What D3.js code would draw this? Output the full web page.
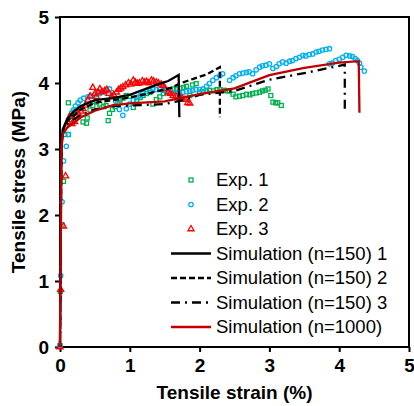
<!DOCTYPE html>
<html>
<head>
<meta charset="utf-8">
<script src="https://cdn.jsdelivr.net/npm/d3@7"></script>
<style>
  body { margin: 0; background: #fff; }
  svg { display: block; font-family: "Liberation Sans", Arial, sans-serif; }
</style>
</head>
<body>
<div id="chart"></div>
<script>
// Tensile stress-strain: experiments (markers) and simulations (lines)

const xTicks = [0, 1, 2, 3, 4, 5];
const yTicks = [0, 1, 2, 3, 4, 5];

// [strain %, stress MPa]
const exp1 = [[0,0.02],[0.005,0.84],[0.03,1.85],[0.05,2.51],[0.07,3.22],[0.12,3.22],[0.12,3.7],[0.15,3.5],
  [0.17,3.54],[0.2,3.56],[0.24,3.59],[0.28,3.62],[0.33,3.41],[0.38,3.39],[0.39,3.47],[0.43,3.59],[0.47,3.66],
  [0.52,3.71],[0.57,3.68],[0.62,3.64],[0.66,3.66],[0.69,3.43],[0.71,3.54],[0.75,3.6],[0.79,3.64],[0.83,3.7],
  [0.86,3.74],[0.9,3.77],[0.95,3.81],[1.0,3.8],[1.05,3.63],[1.1,3.74],[1.15,3.78],[1.19,3.81],[1.24,3.84],
  [1.29,3.86],[1.33,3.68],[1.38,3.75],[1.43,3.79],[1.48,3.84],[1.52,3.88],[1.58,3.9],[1.63,3.91],[1.67,3.91],
  [1.72,3.92],[1.77,3.93],[1.81,3.95],[1.86,3.81],[1.9,3.97],[1.95,3.99],[2.0,3.86],[2.05,3.87],[2.1,3.88],
  [2.14,3.89],[2.2,3.88],[2.25,3.9],[2.29,3.9],[2.35,3.89],[2.4,3.88],[2.43,3.88],[2.48,3.83],[2.52,3.79],
  [2.57,3.8],[2.62,3.81],[2.67,3.83],[2.72,3.82],[2.76,3.84],[2.81,3.85],[2.86,3.86],[2.9,3.88],[2.94,3.89],
  [2.98,3.91],[3.02,3.81],[3.05,3.71],[3.09,3.7],[3.12,3.7],[3.17,3.66]];

const exp2 = [[0,0.02],[0.01,1.08],[0.03,2.2],[0.05,2.82],[0.09,3.04],[0.12,3.22],[0.15,3.45],[0.19,3.59],
  [0.22,3.65],[0.26,3.7],[0.29,3.74],[0.34,3.77],[0.4,3.79],[0.45,3.8],[0.5,3.82],[0.57,3.84],[0.62,3.86],
  [0.67,3.89],[0.71,3.91],[0.75,3.85],[0.8,3.72],[0.85,3.6],[0.9,3.51],[0.95,3.61],[1.0,3.68],[1.05,3.74],
  [1.1,3.78],[1.15,3.81],[1.19,3.84],[1.24,3.87],[1.29,3.89],[1.33,3.91],[1.38,3.9],[1.43,3.9],[1.48,3.89],
  [1.52,3.88],[1.57,3.86],[1.62,3.84],[1.67,3.85],[1.71,3.86],[1.76,3.86],[1.81,3.87],[1.86,3.88],[1.9,3.89],
  [1.95,3.9],[2.0,3.9],[2.05,3.91],[2.1,3.95],[2.14,3.99],[2.19,4.04],[2.24,4.08],[2.29,4.11],[2.33,4.14],
  [2.43,4.04],[2.48,4.08],[2.52,4.11],[2.57,4.14],[2.62,4.15],[2.67,4.16],[2.71,4.17],[2.76,4.14],[2.81,4.2],
  [2.86,4.24],[2.9,4.26],[2.95,4.27],[3.0,4.29],[3.05,4.22],[3.1,4.25],[3.14,4.29],[3.19,4.32],[3.24,4.3],
  [3.29,4.33],[3.33,4.34],[3.38,4.37],[3.43,4.39],[3.48,4.42],[3.52,4.41],[3.57,4.43],[3.62,4.44],[3.67,4.47],
  [3.71,4.48],[3.76,4.5],[3.81,4.51],[3.86,4.52],[3.86,4.29],[3.9,4.3],[3.95,4.34],[4.0,4.36],[4.05,4.39],
  [4.1,4.42],[4.15,4.41],[4.19,4.4],[4.23,4.37],[4.26,4.34],[4.29,4.3],[4.31,4.24],[4.36,4.18]];

const exp3 = [[0,0],[0.01,0.87],[0.05,1.83],[0.08,2.59],[0.12,3.39],[0.14,3.49],[0.17,3.38],[0.21,3.41],
  [0.24,3.5],[0.26,3.54],[0.3,3.57],[0.33,3.61],[0.36,3.66],[0.4,3.74],[0.43,3.8],[0.47,3.93],[0.5,3.84],
  [0.52,3.79],[0.55,3.86],[0.57,3.91],[0.6,3.87],[0.64,3.88],[0.67,3.9],[0.7,3.84],[0.74,3.79],[0.77,3.82],
  [0.81,3.86],[0.84,3.9],[0.87,3.92],[0.9,3.94],[0.94,3.97],[0.98,4.0],[1.01,3.98],[1.05,4.04],[1.08,4.01],
  [1.11,3.99],[1.14,4.0],[1.18,4.03],[1.21,4.01],[1.24,4.02],[1.27,4.0],[1.31,4.04],[1.34,4.03],[1.38,4.01],
  [1.41,4.0],[1.45,3.98],[1.48,3.96],[1.51,3.91],[1.55,3.86],[1.58,3.84],[1.62,3.81],[1.66,3.8],[1.71,3.79],
  [1.75,3.77],[1.79,3.75],[1.83,3.7],[1.86,3.69]];

const sim150a = [[0,0],[0.01,2.0],[0.02,3.0],[0.04,3.3],[0.1,3.45],[0.2,3.57],[0.3,3.65],[0.5,3.74],
  [0.75,3.77],[1.0,3.82],[1.2,3.9],[1.4,3.98],[1.55,4.03],[1.7,4.12],[1.71,3.48]];
const sim150b = [[0,0],[0.02,3.0],[0.04,3.28],[0.1,3.42],[0.3,3.6],[0.5,3.7],[0.75,3.74],[1.0,3.78],
  [1.3,3.85],[1.6,3.93],[1.71,3.99],[1.9,4.06],[2.1,4.13],[2.29,4.24],[2.29,3.48]];
const sim150c = [[0,0],[0.02,3.0],[0.04,3.25],[0.1,3.38],[0.3,3.52],[0.5,3.6],[0.75,3.65],[1.0,3.66],
  [1.5,3.68],[1.8,3.75],[2.0,3.82],[2.5,3.88],[3.0,4.05],[3.5,4.15],[4.0,4.26],[4.08,4.28],[4.08,3.55]];
const sim1000 = [[0,0],[0.02,3.0],[0.04,3.22],[0.1,3.32],[0.3,3.48],[0.5,3.58],[0.75,3.66],[1.0,3.69],
  [1.5,3.72],[2.0,3.83],[2.5,3.92],[3.0,4.12],[3.5,4.23],[4.0,4.31],[4.28,4.33],[4.29,3.55]];

const W = 414, H = 406;
const margin = { top: 17, right: 5, bottom: 59, left: 60 };
const width = W - margin.left - margin.right;
const height = H - margin.top - margin.bottom;

const svg = d3.select('#chart').append('svg')
    .attr('width', W)
    .attr('height', H);

const g = svg.append('g')
    .attr('transform', `translate(${margin.left},${margin.top})`);

const x = d3.scaleLinear().domain([0, 5]).range([0, width]);
const y = d3.scaleLinear().domain([0, 5]).range([height, 0]);

// Axes
const xAxis = g.append('g')
    .attr('transform', `translate(0,${height})`)
    .call(d3.axisBottom(x).tickValues(xTicks).tickSize(5).tickPadding(7).tickFormat(d3.format('d')));
const yAxis = g.append('g')
    .call(d3.axisLeft(y).tickValues(yTicks).tickSize(5).tickPadding(6).tickFormat(d3.format('d')));

[xAxis, yAxis].forEach(a => {
    a.select('.domain').remove();
    a.selectAll('line').attr('stroke', '#000').attr('stroke-width', 2);
    a.selectAll('text').attr('fill', '#000').style('font-size', '19px').style('font-weight', 'bold');
});

// Frame
g.append('rect')
    .attr('width', width)
    .attr('height', height)
    .attr('fill', 'none')
    .attr('stroke', '#000')
    .attr('stroke-width', 2);

// Axis titles
svg.append('text')
    .attr('x', margin.left + width / 2)
    .attr('y', 399)
    .attr('text-anchor', 'middle')
    .style('font-size', '19px')
    .style('font-weight', 'bold')
    .text('Tensile strain (%)');

svg.append('text')
    .attr('transform', `translate(25,${margin.top + height / 2}) rotate(-90)`)
    .attr('text-anchor', 'middle')
    .style('font-size', '19px')
    .style('font-weight', 'bold')
    .text('Tensile stress (MPa)');

const line = d3.line().x(d => x(d[0])).y(d => y(d[1]));

// Markers
const markerSize = 4;
function drawSquares(data, color) {
    g.append('g').selectAll('rect').data(data).enter().append('rect')
        .attr('x', d => x(d[0]) - markerSize / 2)
        .attr('y', d => y(d[1]) - markerSize / 2)
        .attr('width', markerSize)
        .attr('height', markerSize)
        .attr('fill', 'none')
        .attr('stroke', color)
        .attr('stroke-width', 1.3);
}
function drawCircles(data, color) {
    g.append('g').selectAll('circle').data(data).enter().append('circle')
        .attr('cx', d => x(d[0]))
        .attr('cy', d => y(d[1]))
        .attr('r', 2.2)
        .attr('fill', 'none')
        .attr('stroke', color)
        .attr('stroke-width', 1.3);
}
const tri = d3.symbol().type(d3.symbolTriangle).size(16);
function drawTriangles(data, color) {
    g.append('g').selectAll('path').data(data).enter().append('path')
        .attr('transform', d => `translate(${x(d[0])},${y(d[1])})`)
        .attr('d', tri)
        .attr('fill', 'none')
        .attr('stroke', color)
        .attr('stroke-width', 1.3);
}

const green = '#00b050', blue = '#00b0f0', red = '#ff0000', darkRed = '#c00000';

drawSquares(exp1, green);
drawCircles(exp2, blue);
drawTriangles(exp3, red);

const lines = [
    { data: sim150a, color: '#000', dash: null },
    { data: sim150b, color: '#000', dash: '6,3' },
    { data: sim150c, color: '#000', dash: '9,5,2,5' },
    { data: sim1000, color: darkRed, dash: null }
];
lines.forEach(s => {
    g.append('path')
        .datum(s.data)
        .attr('d', line)
        .attr('fill', 'none')
        .attr('stroke', s.color)
        .attr('stroke-width', 2.3)
        .attr('stroke-dasharray', s.dash);
});

// Legend
const legendNames = ['Exp. 1', 'Exp. 2', 'Exp. 3', 'Simulation (n=150) 1',
    'Simulation (n=150) 2', 'Simulation (n=150) 3', 'Simulation (n=1000)'];
const legend = svg.append('g').attr('transform', 'translate(171,180)');
legendNames.forEach((name, i) => {
    const item = legend.append('g').attr('transform', `translate(0,${i * 24.5})`);
    if (i === 0) {
        item.append('rect').attr('x', 20 - 2).attr('y', -2).attr('width', 4).attr('height', 4)
            .attr('fill', 'none').attr('stroke', green).attr('stroke-width', 1.3);
    } else if (i === 1) {
        item.append('circle').attr('cx', 20).attr('r', 2.2)
            .attr('fill', 'none').attr('stroke', blue).attr('stroke-width', 1.3);
    } else if (i === 2) {
        item.append('path').attr('transform', 'translate(20,0)').attr('d', tri)
            .attr('fill', 'none').attr('stroke', red).attr('stroke-width', 1.3);
    } else {
        const s = lines[i - 3];
        item.append('line').attr('x1', 0).attr('x2', 40)
            .attr('stroke', s.color).attr('stroke-width', 2.3)
            .attr('stroke-dasharray', s.dash);
    }
    item.append('text')
        .attr('x', 45)
        .attr('dy', '0.35em')
        .style('font-size', '18.5px')
        .text(name);
});
</script>
</body>
</html>
